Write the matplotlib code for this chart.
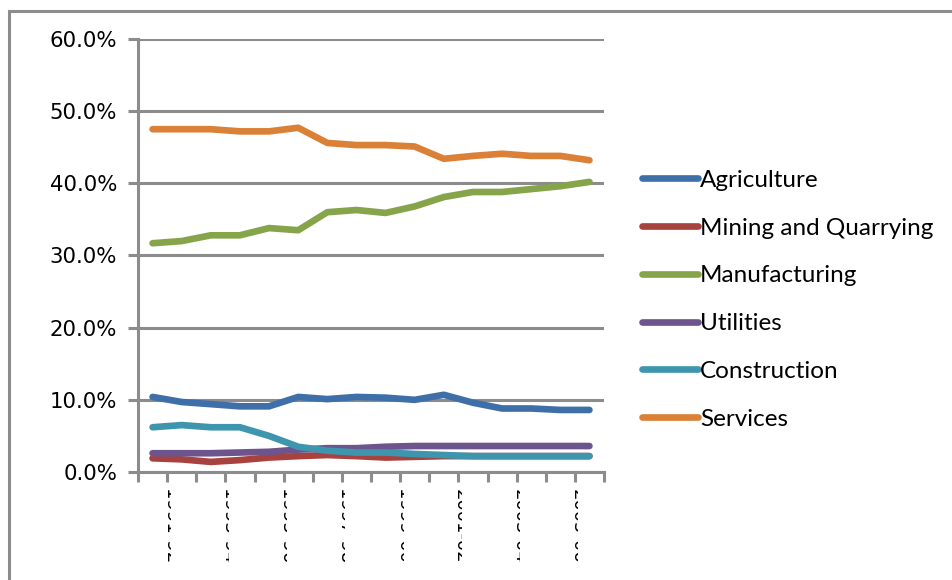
import numpy as np
import matplotlib.pyplot as plt
from matplotlib.patches import Rectangle
from matplotlib.transforms import Bbox, TransformedBbox

# share of output by sector, 16 periods
years = ['1991-92', '1992-93', '1993-94', '1994-95', '1995-96', '1996-97', '1997-98', '1998-99',
         '1999-00', '2000-01', '2001-02', '2002-03', '2003-04', '2004-05', '2005-06', '2006-07']

agriculture = [10.4, 9.7, 9.4, 9.1, 9.1, 10.4, 10.1, 10.4, 10.3, 10.0, 10.7, 9.6, 8.8, 8.8, 8.6, 8.6]
mining = [1.9, 1.75, 1.4, 1.65, 2.0, 2.2, 2.35, 2.2, 2.0, 2.1, 2.2, 2.2, 2.2, 2.2, 2.2, 2.2]
manufacturing = [31.7, 32.0, 32.8, 32.8, 33.8, 33.5, 36.0, 36.3, 35.9, 36.8, 38.1, 38.8, 38.8, 39.2, 39.6, 40.2]
utilities = [2.6, 2.6, 2.6, 2.7, 2.8, 3.1, 3.3, 3.3, 3.5, 3.6, 3.6, 3.6, 3.6, 3.6, 3.6, 3.6]
construction = [6.2, 6.5, 6.2, 6.2, 5.0, 3.5, 2.95, 2.7, 2.7, 2.5, 2.35, 2.2, 2.2, 2.2, 2.2, 2.2]
services = [47.5, 47.5, 47.5, 47.2, 47.2, 47.7, 45.6, 45.3, 45.3, 45.1, 43.4, 43.8, 44.1, 43.8, 43.8, 43.2]

series = [
    ('Agriculture', agriculture, '#3F6FA9'),
    ('Mining and Quarrying', mining, '#A8423F'),
    ('Manufacturing', manufacturing, '#86A44A'),
    ('Utilities', utilities, '#6E548D'),
    ('Construction', construction, '#3D96AE'),
    ('Services', services, '#DA8137'),
]

grey = '#8C8C8C'

fig = plt.figure(figsize=(9.52, 5.8), dpi=100)
fig.patches.append(Rectangle((9 / 952, -0.1), 1.2, 1.1 - 11 / 580, transform=fig.transFigure,
                             fill=False, edgecolor=grey, linewidth=2.2))

ax = fig.add_axes([138 / 952, 1 - 472 / 580, (604 - 138) / 952, (472 - 39) / 580])
x = np.arange(len(years))

for name, vals, col in series:
    ax.plot(x, np.array(vals) / 100, color=col, linewidth=4.8, label=name,
            solid_capstyle='round', solid_joinstyle='round')

ax.set_xlim(-0.5, len(years) - 0.5)
ax.set_ylim(0, 0.6)
ax.set_yticks(np.arange(0, 0.61, 0.1))
ax.set_yticklabels(['%.1f%%' % (v * 100) for v in np.arange(0, 0.61, 0.1)], fontsize=15.3)
ax.yaxis.grid(True, color=grey, linewidth=2.2)
ax.set_axisbelow(True)

ax.set_xticks(np.arange(-0.5, len(years), 1))
ax.set_xticklabels([])
ax.tick_params(axis='both', color=grey, width=2.2, length=7, direction='out')
ax.tick_params(axis='y', pad=8)

for side in ['top', 'right']:
    ax.spines[side].set_visible(False)
for side in ['left', 'bottom']:
    ax.spines[side].set_color(grey)
    ax.spines[side].set_linewidth(2.2)

leg = ax.legend(loc='upper left', bbox_to_anchor=(1.06, 0.72), frameon=False,
                prop={'family': 'Lato', 'size': 17.5}, handlelength=2.3,
                handletextpad=0.1, labelspacing=1.1, borderaxespad=0)
for h in leg.get_lines():
    h.set_linewidth(4.8)

# category labels are squeezed and clipped, only a sliver shows
trans = ax.get_xaxis_transform()
for i in range(0, len(years), 2):
    xa = i + 0.28
    t = ax.text(xa, -0.04, years[i], transform=trans, rotation=-90,
                ha='left', va='top', fontsize=13, family='DejaVu Sans')
    t.set_clip_on(True)
    t.set_clip_box(TransformedBbox(Bbox([[xa + 0.09, -0.3], [xa + 0.34, 0]]), trans))

fig.savefig('out.png', dpi=100)
